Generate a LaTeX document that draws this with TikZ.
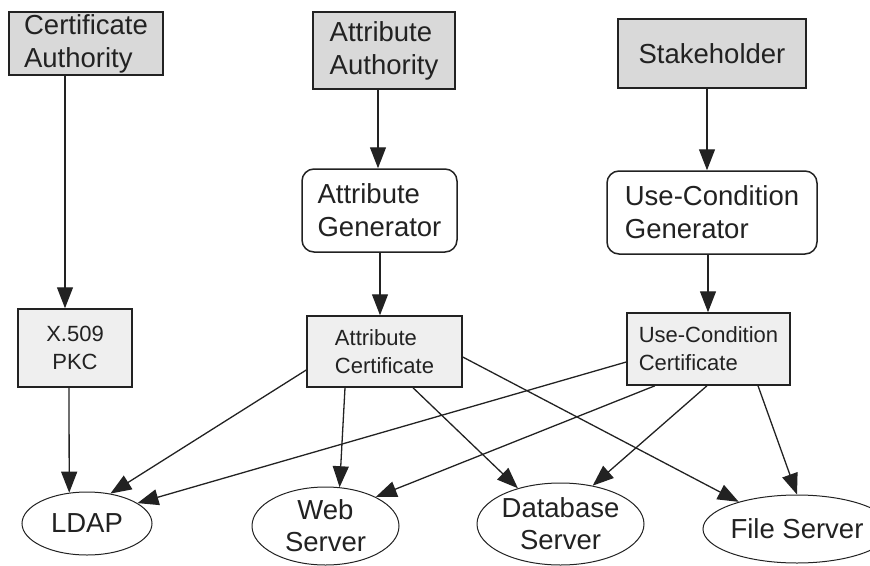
\documentclass[tikz,border=0pt]{standalone}
\usepackage{fontspec}
\setmainfont{Liberation Sans}
\usetikzlibrary{arrows.meta,shapes.geometric}
\definecolor{ink}{HTML}{222222}
\definecolor{darkfill}{HTML}{D9D9D9}
\definecolor{lightfill}{HTML}{EFEFEF}
\tikzset{
  bigtext/.style={font=\fontsize{27.5}{33}\selectfont, text=ink, align=left},
  smalltext/.style={font=\fontsize{22}{28}\selectfont, text=ink, align=left},
  authbox/.style={draw=ink, line width=1.5pt, fill=darkfill, inner sep=0pt, bigtext},
  genbox/.style={draw=ink, line width=1.5pt, fill=white, rounded corners=12pt, inner sep=0pt, bigtext},
  certbox/.style={draw=ink, line width=1.5pt, fill=lightfill, inner sep=0pt, smalltext},
  server/.style={ellipse, draw=ink, line width=1pt, fill=white, inner sep=0pt, bigtext, align=center},
  link/.style={draw=ink, line width=1.3pt, -{Triangle[length=21pt,width=16pt]}}
}
\begin{document}
\begin{tikzpicture}[x=1pt,y=-1pt]
\useasboundingbox (0,0) rectangle (870,565);
% top row
\node[authbox, minimum width=154pt, minimum height=63pt] (ca) at (86,43.5) {Certificate\\Authority};
\node[authbox, minimum width=142pt, minimum height=77pt] (aa) at (384,50.5) {Attribute\\Authority};
\node[authbox, minimum width=188pt, minimum height=69pt] (sh) at (712,53.5) {Stakeholder};
% generators
\node[genbox, minimum width=155pt, minimum height=83pt] (ag) at (379.5,210.5) {Attribute\\Generator};
\node[genbox, minimum width=210pt, minimum height=83pt] (ucg) at (712,212.5) {Use-Condition\\Generator};
% certificates
\node[certbox, minimum width=114pt, minimum height=78pt, align=center] (pkc) at (75,348) {X.509\\PKC};
\node[certbox, minimum width=155pt, minimum height=71pt] (ac) at (384.5,351.5) {Attribute\\Certificate};
\node[certbox, minimum width=163pt, minimum height=72pt] (ucc) at (708.5,349) {Use-Condition\\Certificate};
% servers
\node[server, minimum width=130pt, minimum height=63pt] (ldap) at (87,523.5) {LDAP};
\node[server, minimum width=147pt, minimum height=78pt, font=\fontsize{27.5}{32}\selectfont] (web) at (325.5,526) {Web\\Server};
\node[server, minimum width=167pt, minimum height=82pt, font=\fontsize{27.5}{32}\selectfont] (db) at (560.5,524) {Database\\Server};
\node[server, minimum width=150pt, minimum height=68pt] (fs) at (797,529) {File Server};
% vertical chains
\draw[link] ([xshift=-21pt]ca.south) -- ([xshift=-10pt]pkc.north);
\draw[link] ([xshift=-6pt]pkc.south) -- (ldap.120);
\draw[link] ([xshift=-6pt]aa.south) -- ([xshift=-1.5pt]ag.north);
\draw[link] ([xshift=0.5pt]ag.south) -- ([xshift=-4.5pt]ac.north);
\draw[link] ([xshift=-5pt]sh.south) -- ([xshift=-5pt]ucg.north);
\draw[link] ([xshift=-4pt]ucg.south) -- ([xshift=-0.5pt]ucc.north);
% attribute certificate distribution
\draw[link] ([yshift=-18.5pt]ac.west) -- (ldap.52);
\draw[link] ([xshift=-39.5pt]ac.south) -- (web.70);
\draw[link] ([xshift=28.5pt]ac.south) -- (db.140);
\draw[link] ([yshift=-5.5pt]ac.east) -- (fs.155);
% use-condition certificate distribution
\draw[link] ([yshift=-13pt]ucc.west) -- (ldap.22);
\draw[link] ([xshift=-53.5pt]ucc.south) -- (web.30);
\draw[link] ([xshift=-1.5pt]ucc.south) -- (db.50);
\draw[link] ([xshift=49.5pt]ucc.south) -- (fs.north);
\end{tikzpicture}
\end{document}
